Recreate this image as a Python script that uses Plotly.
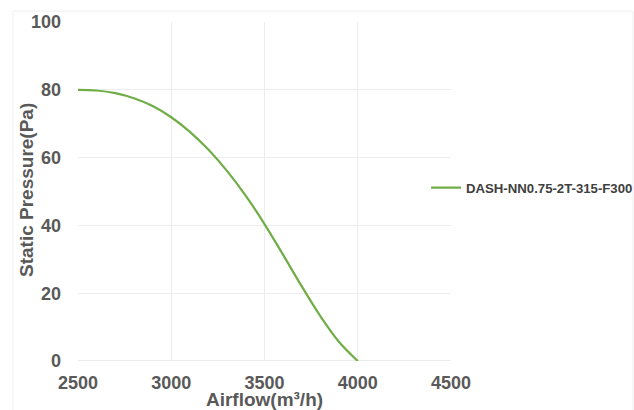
import plotly.graph_objects as go

series_name = "DASH-NN0.75-2T-315-F300"
airflow = [2500, 2600, 2700, 2800, 2900, 3000, 3100, 3200, 3300, 3400, 3500, 3600, 3700, 3800, 3900, 4000]
pressure = [80, 79.8, 79.0, 77.5, 75.2, 71.9, 67.6, 62.3, 56.0, 48.7, 40.4, 31.3, 22.0, 13.2, 5.6, 0]

x_ticks = [2500, 3000, 3500, 4000, 4500]
y_ticks = [0, 20, 40, 60, 80, 100]
x_title = "Airflow(m³/h)"
y_title = "Static Pressure(Pa)"

W, H = 634, 410
L, R, T, B = 78, 183, 22, 49
PW, PH = W - L - R, H - T - B

FONT = "Liberation Sans, Arial, sans-serif"

fig = go.Figure()
fig.add_trace(go.Scatter(
    x=airflow, y=pressure, mode="lines", name=series_name,
    line=dict(color="#70AD47", width=2.2, shape="spline", smoothing=1.0),
))

tickfont = dict(family=FONT, size=18, color="#595959", weight="bold")
titlefont = dict(family=FONT, size=19, color="#595959", weight="bold")

fig.update_layout(
    width=W, height=H,
    margin=dict(l=L, r=R, t=T, b=B, pad=0, autoexpand=False),
    paper_bgcolor="white", plot_bgcolor="white",
    font=dict(family=FONT, color="#595959"),
    showlegend=True,
    legend=dict(
        x=(426 - L) / PW, y=0.51, xanchor="left", yanchor="middle",
        bgcolor="rgba(0,0,0,0)", itemwidth=30,
        font=dict(family=FONT, size=13.2, color="#404040", weight="bold"),
    ),
    xaxis=dict(
        range=[2500, 4500], tickvals=x_ticks, ticktext=[str(v) for v in x_ticks],
        showgrid=True, gridcolor="#EDEDED", gridwidth=1,
        zeroline=False, showline=False, ticks="", automargin=False,
        tickfont=tickfont, ticklabelstandoff=9,
        title=dict(text=x_title, font=titlefont, standoff=0),
    ),
    yaxis=dict(
        range=[0, 100], tickvals=y_ticks, ticktext=[str(v) for v in y_ticks],
        showgrid=True, gridcolor="#EDEDED", gridwidth=1,
        zeroline=False, showline=False, ticks="", automargin=False,
        tickfont=tickfont, ticklabelstandoff=16,
    ),
    annotations=[
        dict(text=y_title, xref="paper", yref="paper", x=(26 - L) / PW, y=(H - B - 190) / PH,
             xanchor="center", yanchor="middle", textangle=-90, showarrow=False, font=titlefont),
    ],
    shapes=[
        dict(type="line", xref="x", yref="y", x0=2500, x1=4500, y0=0, y1=0,
             line=dict(color="#D9D9D9", width=1), layer="below"),
        dict(type="rect", xref="paper", yref="paper",
             x0=(13 - L) / PW, x1=(633 - L) / PW,
             y0=(H - B - 412) / PH, y1=(H - B - 11) / PH,
             line=dict(color="#F0F0F0", width=1), fillcolor="rgba(0,0,0,0)", layer="below"),
    ],
)

fig.write_html("out.html", config={"displayModeBar": False},
               post_script="document.body.style.margin='0';document.body.style.overflow='hidden';")
